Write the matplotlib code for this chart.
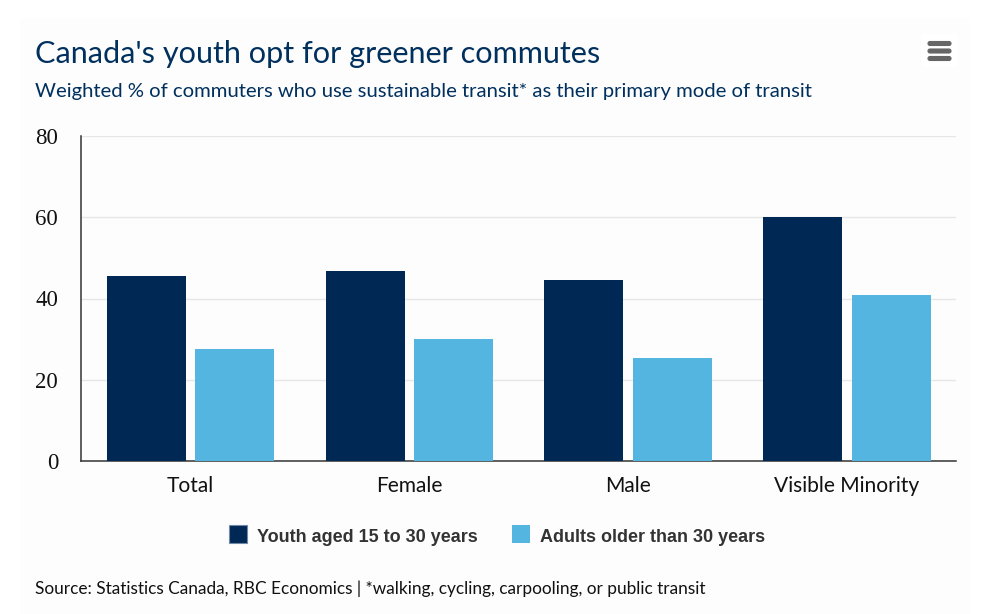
import numpy as np
import matplotlib
matplotlib.use("Agg")
from matplotlib import pyplot as plt
from matplotlib.patches import Rectangle, FancyBboxPatch

categories = ["Total", "Female", "Male", "Visible Minority"]
youth = [45.6, 46.8, 44.6, 60.1]
adults = [27.5, 30.1, 25.4, 40.8]
y_ticks = [0, 20, 40, 60, 80]
series_names = ["Youth aged 15 to 30 years", "Adults older than 30 years"]

W, H = 995, 614
NAVY = "#002855"
BLUE = "#54b5e0"

def fx(px):
    return px / W

def fy(py):
    return 1 - py / H

fig = plt.figure(figsize=(W / 100, H / 100), dpi=100, facecolor="white")

# card behind everything
fig.patches.append(Rectangle((fx(20), fy(614)), 950 / W, 596 / H, transform=fig.transFigure,
                             facecolor="#fdfdfd", edgecolor="none", zorder=-5))

ax = fig.add_axes([fx(81), fy(461), 875 / W, 325 / H])
ax.patch.set_alpha(0)

x = np.arange(len(categories))
bar_w = 0.361
ax.bar(x - 0.201, youth, bar_w, color=NAVY, zorder=3)
ax.bar(x + 0.203, adults, bar_w, color=BLUE, zorder=3)

ax.set_xlim(-0.5, 3.5)
ax.set_ylim(0, 80)
ax.set_yticks(y_ticks)
ax.set_xticks(x)
ax.set_xticklabels(categories, family="Lato", fontsize=15.1, color="#111111")
ax.set_yticklabels(y_ticks, family="Liberation Serif", fontsize=16.5, color="#111111")
ax.tick_params(axis="both", length=0)
ax.tick_params(axis="x", pad=11)
ax.tick_params(axis="y", pad=16.5)

ax.grid(axis="y", color="#e6e6e6", lw=1, zorder=0)
ax.spines["top"].set_visible(False)
ax.spines["right"].set_visible(False)
ax.spines["left"].set_color("#333333")
ax.spines["bottom"].set_color("#333333")
ax.spines["left"].set_linewidth(1.1)
ax.spines["bottom"].set_linewidth(1.1)

# title block
fig.text(fx(35), fy(54), "Canada's youth opt for greener commutes", family="Lato", fontsize=22.1,
         color="#00305e", va="center", ha="left")
fig.text(fx(35), fy(91), "Weighted % of commuters who use sustainable transit* as their primary mode of transit",
         family="Lato", fontsize=14.55, color="#00305e", va="center", ha="left")

# legend drawn by hand to sit where the original does
for sx, tx, c, name in zip([229, 512], [257, 540.5], [NAVY, BLUE], series_names):
    fig.patches.append(Rectangle((fx(sx), fy(543)), 18 / W, 18 / H, transform=fig.transFigure,
                                 facecolor=c, edgecolor="#6f89a6" if c == NAVY else "none", lw=0.8))
    fig.text(fx(tx), fy(537), name, family="Liberation Sans", fontweight="bold", fontsize=13,
             color="#333333", va="center", ha="left")

fig.text(fx(35), fy(589), "Source: Statistics Canada, RBC Economics | *walking, cycling, carpooling, or public transit",
         family="Lato", fontsize=12.4, color="#111111", va="center", ha="left")

# menu icon
fig.patches.append(FancyBboxPatch((921, H - 67), 37, 33, boxstyle="round,pad=0,rounding_size=4",
                                  transform=None, facecolor="white", edgecolor="none"))
for py in [43.5, 51, 58.5]:
    fig.patches.append(FancyBboxPatch((928, H - py - 2), 23, 4, boxstyle="round,pad=0,rounding_size=2",
                                      transform=None, facecolor="#666666", edgecolor="#666666", lw=0.8))

fig.savefig("out.png", dpi=100)
